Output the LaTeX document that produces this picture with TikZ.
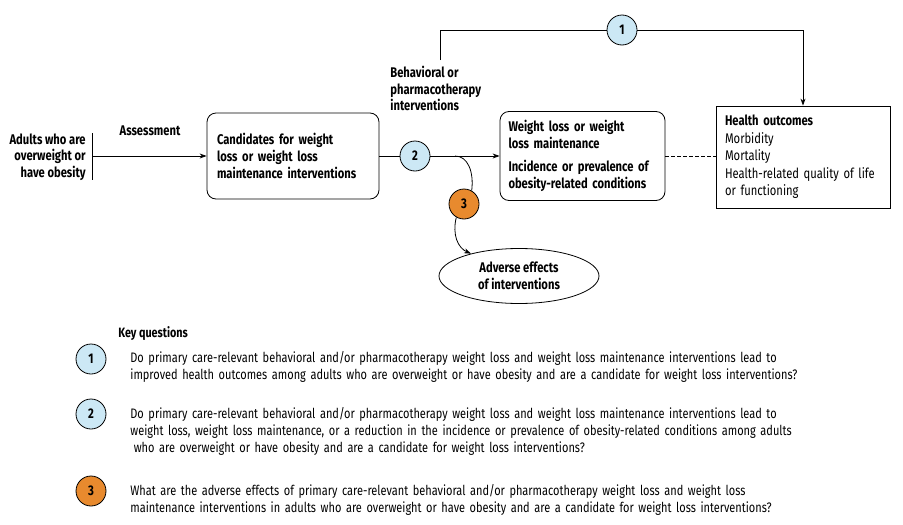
\documentclass[tikz,border=0pt]{standalone}
\usepackage{fontspec}
\setmainfont{Fira Sans}[FakeStretch=0.8]
\usepackage{tikz}
\usetikzlibrary{arrows.meta,shapes.geometric,positioning}
\usepackage{xcolor}
\definecolor{kqblue}{rgb}{0.80, 0.91, 0.96}
\definecolor{kqorange}{rgb}{0.91, 0.54, 0.18}

\begin{document}
\begin{tikzpicture}[x=1pt, y=-1pt, line width=0.8pt,
	label text/.style={font=\fontsize{14}{16.6}\selectfont\bfseries, inner sep=0pt},
	question text/.style={font=\fontsize{13.75}{16.8}\selectfont, inner sep=0pt, align=left, text width=760pt},
	round box/.style={draw, rounded corners=9pt, align=left},
	kq/.style={circle, draw, minimum size=30pt, inner sep=0pt, font=\fontsize{14}{16}\selectfont\bfseries},
	arrow/.style={-{Stealth[length=7pt, width=5pt]}}]
	\useasboundingbox (0,0) rectangle (903,525);

	% Population and assessment.
	\node [label text, align=right, anchor=east] (adults) at (86,157) {Adults who are\\overweight or\\have obesity};
	\coordinate (bartop) at (92,133);
	\coordinate (barbot) at (92,180);
	\draw (bartop) -- (barbot);
	\node [label text] (assess) at (150,131) {Assessment};

	% Main chain of boxes.
	\node [round box, label text, text width=152pt, inner xsep=10pt, minimum height=86pt] (cand) at (293,156)
		{Candidates for weight\\loss or weight loss\\maintenance interventions};
	\node [kq, fill=kqblue] (kq2) at (415,156) {2};
	\node [round box, label text, text width=148pt, inner xsep=8.5pt, minimum height=89pt] (weight) at (582.5,156)
		{Weight loss or weight\\loss maintenance\\[7pt]Incidence or prevalence of\\obesity-related conditions};
	\node [draw, align=left, text width=156pt, inner xsep=9pt, minimum height=102pt,
		font=\fontsize{14}{17.5}\selectfont] (health) at (803,157)
		{\textbf{Health outcomes}\\Morbidity\\Mortality\\Health-related quality of life\\or functioning};

	\draw [arrow] (bartop |- cand.west) -- (cand.west);
	\draw (cand.east |- kq2) -- (kq2);
	\draw [arrow] (kq2) -- (weight.west |- kq2);
	\draw [dash pattern=on 4pt off 2pt] (weight.east |- kq2) -- (health.west |- kq2);

	% Key question 1 arc over the top.
	\node [label text, align=left, anchor=north west] (behav) at (390,66) {Behavioral or\\pharmacotherapy\\interventions};
	\coordinate (bstart) at (440,60);
	\node [kq, fill=kqblue] (kq1) at (622,30) {1};
	\draw (bstart) |- (kq1);
	\draw [arrow] (kq1) -| (health.north);

	% Harms branch.
	\coordinate (branch) at (455,156);
	\node [kq, fill=kqorange] (kq3) at (464,204) {3};
	\node [ellipse, draw, label text, align=center, minimum width=160pt, minimum height=55pt] (adverse) at (519,276)
		{Adverse effects\\of interventions};
	\draw (branch) .. controls (468,156) and (474,172) .. (kq3.60);
	\draw [arrow] (kq3.240) .. controls (452,235) and (458,248) .. (adverse.155);

	% Key questions.
	\node [label text, anchor=west, font=\fontsize{13.5}{15}\selectfont\bfseries] (kqtitle) at (118,334) {Key questions};

	\node [kq, fill=kqblue] (key1) at (91,359) {1};
	\node [question text, anchor=north west] (q1) at (130,351)
		{Do primary care-relevant behavioral and/or pharmacotherapy weight loss and weight loss maintenance interventions lead to\\
		improved health outcomes among adults who are overweight or have obesity and are a candidate for weight loss interventions?};

	\node [kq, fill=kqblue] (key2) at (91,414) {2};
	\node [question text, anchor=north west] (q2) at (130,407)
		{Do primary care-relevant behavioral and/or pharmacotherapy weight loss and weight loss maintenance interventions lead to\\
		weight loss, weight loss maintenance, or a reduction in the incidence or prevalence of obesity-related conditions among adults\\
		\hspace*{0.25em}who are overweight or have obesity and are a candidate for weight loss interventions?};

	\node [kq, fill=kqorange] (key3) at (91,491) {3};
	\node [question text, anchor=north west] (q3) at (130,484)
		{What are the adverse effects of primary care-relevant behavioral and/or pharmacotherapy weight loss and weight loss\\
		maintenance interventions in adults who are overweight or have obesity and are a candidate for weight loss interventions?};
\end{tikzpicture}
\end{document}
